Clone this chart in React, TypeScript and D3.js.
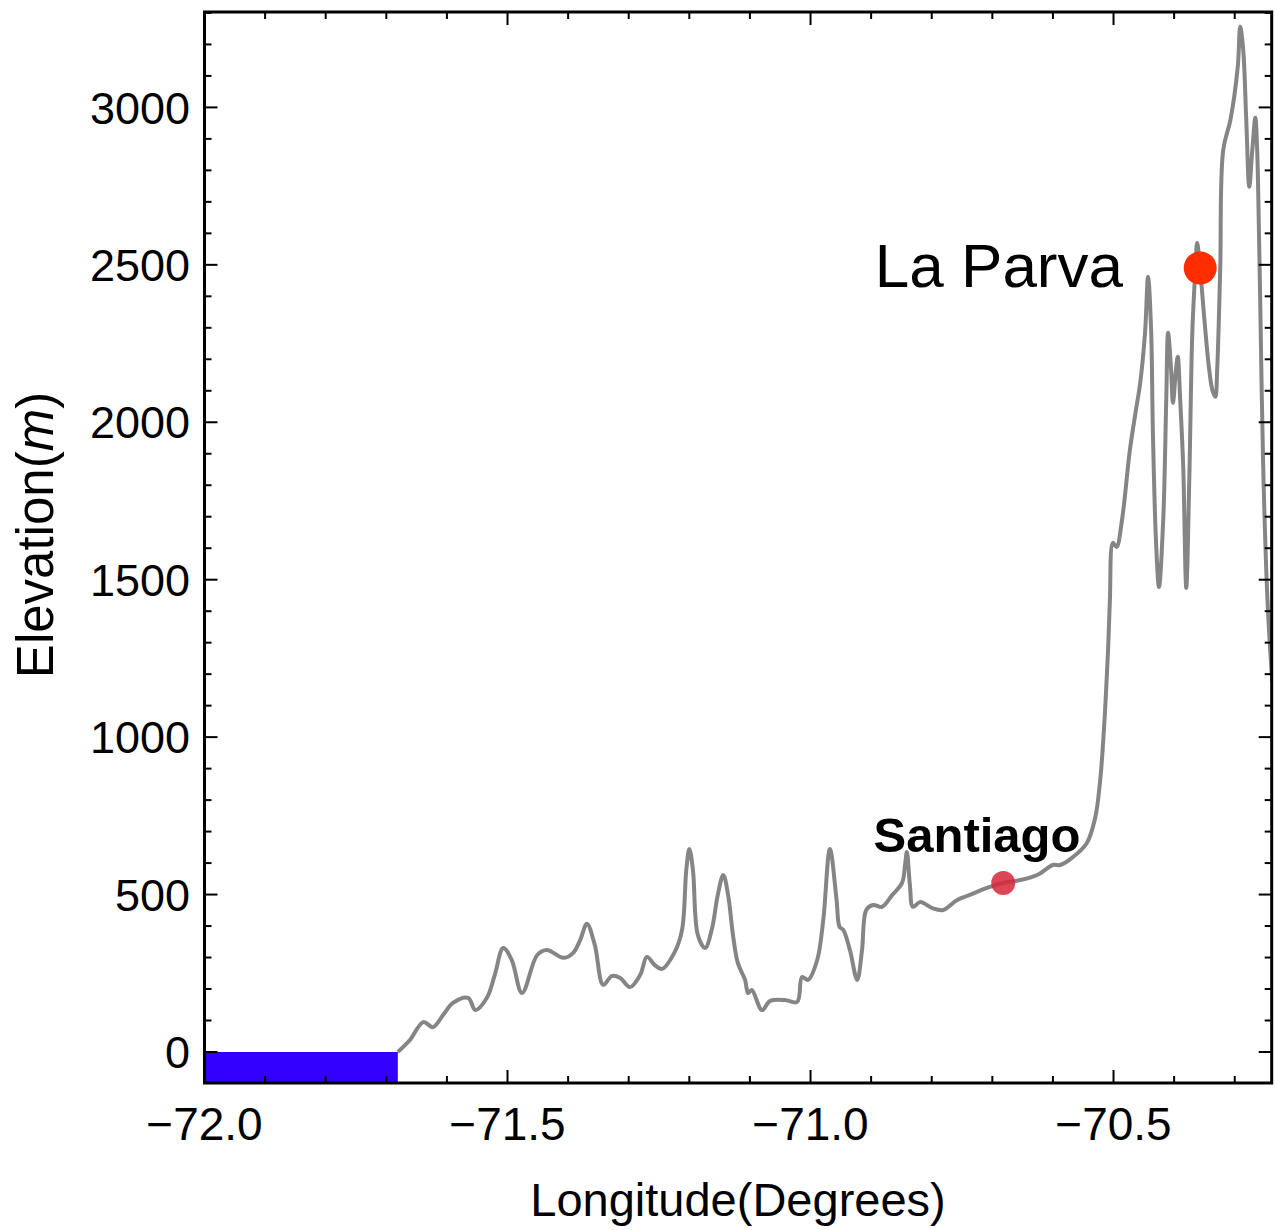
import React from "react";
import * as d3 from "d3";

const lon: number[] = [
  -71.681, -71.661, -71.639, -71.623, -71.606, -71.590, -71.565, -71.553, -71.534, -71.521,
  -71.507, -71.493, -71.476, -71.451, -71.435, -71.408, -71.392, -71.380, -71.369, -71.356,
  -71.342, -71.328, -71.314, -71.298, -71.281, -71.270, -71.257, -71.245, -71.224, -71.212,
  -71.205, -71.200, -71.194, -71.186, -71.174, -71.163, -71.153, -71.144, -71.136, -71.128,
  -71.120, -71.108, -71.103, -71.097, -71.080, -71.067, -71.042, -71.022, -71.014, -71.004,
  -70.989, -70.979, -70.968, -70.957, -70.952, -70.946, -70.935, -70.923, -70.915, -70.908,
  -70.897, -70.882, -70.865, -70.849, -70.844, -70.841, -70.836, -70.831, -70.819, -70.799,
  -70.781, -70.758, -70.737, -70.709, -70.682, -70.654, -70.626, -70.600, -70.588, -70.567,
  -70.544, -70.530, -70.522, -70.518, -70.513, -70.509, -70.506, -70.501, -70.495, -70.486,
  -70.473, -70.463, -70.456, -70.448, -70.443, -70.438, -70.435, -70.430, -70.425, -70.418,
  -70.413, -70.410, -70.405, -70.402, -70.397, -70.394, -70.390, -70.385, -70.380, -70.375,
  -70.370, -70.365, -70.362, -70.357, -70.350, -70.343, -70.337, -70.332, -70.329, -70.324,
  -70.319, -70.307, -70.295, -70.291, -70.286, -70.281, -70.276, -70.271, -70.266, -70.263,
  -70.261, -70.258, -70.253, -70.246, -70.238,
];

const elevation: number[] = [
  0, 38, 95, 79, 118, 156, 172, 133, 172, 245,
  330, 292, 187, 308, 324, 299, 314, 356, 407, 340,
  213, 241, 235, 206, 245, 302, 276, 264, 318, 388,
  578, 645, 578, 372, 330, 388, 499, 562, 499, 372,
  283, 229, 187, 197, 133, 162, 165, 159, 238, 229,
  292, 419, 645, 483, 397, 388, 324, 229, 324, 451,
  467, 461, 499, 537, 594, 635, 530, 461, 476, 457,
  451, 483, 499, 521, 537, 546, 562, 594, 594, 619,
  664, 746, 864, 959, 1118, 1277, 1436, 1617, 1604, 1690,
  1912, 2039, 2125, 2284, 2462, 2293, 1966, 1626, 1477, 1690,
  2071, 2284, 2166, 2062, 2166, 2208, 2071, 1858, 1474, 1817,
  2284, 2484, 2570, 2484, 2325, 2182, 2103, 2081, 2166, 2484,
  2865, 2961, 3129, 3256, 3183, 2961, 2748, 2865, 2967, 2865,
  2706, 2389, 1858, 1436, 1172,
];

const seaLon: number[] = [-72.0, -71.681];
const seaLevel = 0;

const xMajorTicks: number[] = [-72.0, -71.5, -71.0, -70.5];
const xTickLabels: string[] = ["\u221272.0", "\u221271.5", "\u221271.0", "\u221270.5"];
const yMajorTicks: number[] = [0, 500, 1000, 1500, 2000, 2500, 3000];
const yTickLabels: string[] = ["0", "500", "1000", "1500", "2000", "2500", "3000"];

const places = [
  { name: "La Parva", lon: -70.357, elev: 2490 },
  { name: "Santiago", lon: -70.682, elev: 537 },
];

const W = 1275;
const H = 1230;
const L = 204.5;
const R = 1271.7;
const T = 12;
const B = 1083;

export default function App() {
  const x = d3.scaleLinear().domain([-72.0, -70.239]).range([L, R]);
  const y = d3.scaleLinear().domain([-98.5, 3303]).range([B, T]);

  const pts: [number, number][] = lon.map((v, i) => [v, elevation[i]]);
  const line = d3
    .line<[number, number]>()
    .x((d) => x(d[0]))
    .y((d) => y(d[1]))
    .curve(d3.curveCatmullRom.alpha(0.5));

  const xMinor = d3.range(0, 18).map((i) => -72 + i * 0.1).filter((v) => !xMajorTicks.some((m) => Math.abs(m - v) < 1e-6));
  const yMinor = d3.range(0, 34).map((i) => i * 100).filter((v) => v % 500 !== 0);

  const major = 13;
  const minor = 7;
  const font = "'Liberation Sans', Arial, Helvetica, sans-serif";

  const laParva = places[0];
  const santiago = places[1];

  return (
    <svg width={W} height={H} style={{ position: "absolute", left: 0, top: 0, background: "#fff" }} fontFamily={font}>
      <defs>
        <clipPath id="plot">
          <rect x={L} y={T} width={R - L} height={B - T} />
        </clipPath>
      </defs>
      <rect x={0} y={0} width={W} height={H} fill="#fff" />
      <rect
        x={x(seaLon[0])}
        y={y(seaLevel)}
        width={x(seaLon[1]) - x(seaLon[0])}
        height={B - y(seaLevel)}
        fill="#3300ff"
      />
      <path d={line(pts) || ""} fill="none" stroke="#858585" strokeWidth={4} clipPath="url(#plot)" strokeLinejoin="round" />

      <circle cx={x(santiago.lon)} cy={y(santiago.elev)} r={12} fill="#d7263a" fillOpacity={0.85} />
      <text x={977} y={852} fontSize={49} fontWeight="bold" textAnchor="middle" fill="#000">
        {santiago.name}
      </text>

      <circle cx={x(laParva.lon)} cy={y(laParva.elev)} r={16.5} fill="#ff2d00" />
      <text x={1123} y={287} fontSize={62} textAnchor="end" fill="#000">
        {laParva.name}
      </text>

      {/* ticks */}
      <g stroke="#000" strokeWidth={2}>
        {xMajorTicks.map((v) => (
          <g key={"xM" + v}>
            <line x1={x(v)} x2={x(v)} y1={B} y2={B - major} />
            <line x1={x(v)} x2={x(v)} y1={T} y2={T + major} />
          </g>
        ))}
        {xMinor.map((v) => (
          <g key={"xm" + v}>
            <line x1={x(v)} x2={x(v)} y1={B} y2={B - minor} />
            <line x1={x(v)} x2={x(v)} y1={T} y2={T + minor} />
          </g>
        ))}
        {yMajorTicks.map((v) => (
          <g key={"yM" + v}>
            <line x1={L} x2={L + major} y1={y(v)} y2={y(v)} />
            <line x1={R} x2={R - major} y1={y(v)} y2={y(v)} />
          </g>
        ))}
        {yMinor.map((v) => (
          <g key={"ym" + v}>
            <line x1={L} x2={L + minor} y1={y(v)} y2={y(v)} />
            <line x1={R} x2={R - minor} y1={y(v)} y2={y(v)} />
          </g>
        ))}
      </g>

      <rect x={L} y={T} width={R - L} height={B - T} fill="none" stroke="#000" strokeWidth={3} />

      {xMajorTicks.map((v, i) => (
        <text key={"xl" + v} x={x(v)} y={1140} fontSize={46} textAnchor="middle" fill="#000">
          {xTickLabels[i]}
        </text>
      ))}
      {yMajorTicks.map((v, i) => (
        <text key={"yl" + v} x={190} y={y(v)} dy="0.36em" fontSize={45} textAnchor="end" fill="#000">
          {yTickLabels[i]}
        </text>
      ))}

      <text x={738} y={1216} fontSize={47} textAnchor="middle" fill="#000">
        Longitude(Degrees)
      </text>
      <text transform="translate(53,535) rotate(-90)" fontSize={51} textAnchor="middle" fill="#000">
        Elevation(<tspan fontStyle="italic">m</tspan>)
      </text>
    </svg>
  );
}
